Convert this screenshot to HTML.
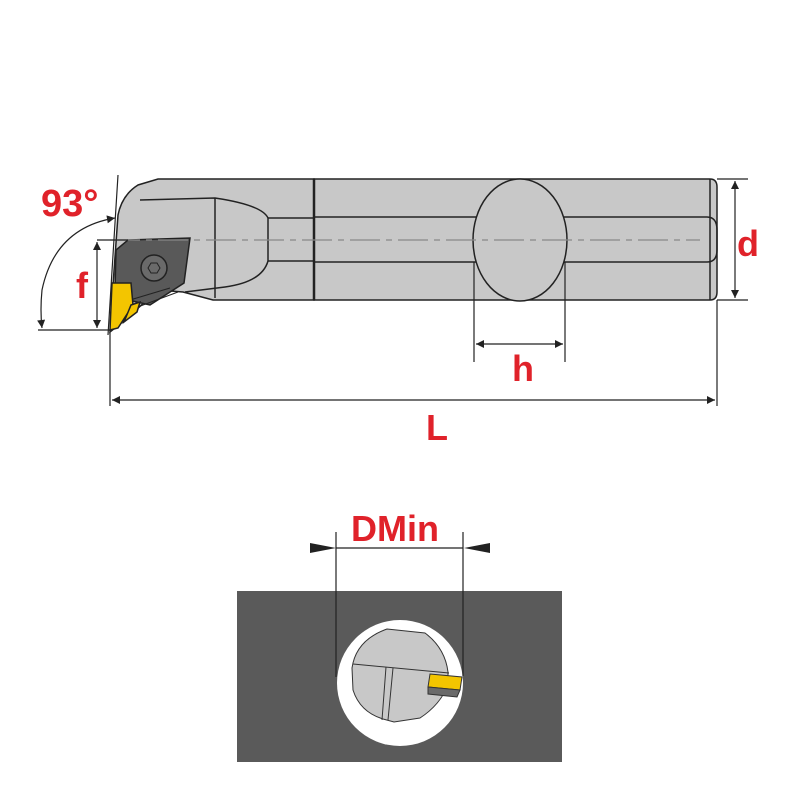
<!DOCTYPE html>
<html><head><meta charset="utf-8"><style>html,body{margin:0;padding:0;background:#fff}svg{display:block}</style></head>
<body>
<svg width="800" height="800" viewBox="0 0 800 800" xmlns="http://www.w3.org/2000/svg" font-family="Liberation Sans, sans-serif">
<defs>
<marker id="a" viewBox="0 0 10 10" refX="10" refY="5" markerWidth="14" markerHeight="8" orient="auto-start-reverse" markerUnits="userSpaceOnUse"><path d="M0,0 L10,5 L0,10 z" fill="#222"/></marker>
</defs>
<g stroke="#222" stroke-width="1.5" fill="#c8c8c8">
<!-- head outer -->
<path d="M158,179 H314 V300 H213 L183,292 L158,290 L125,320 L110,332 L113,285 L118,215 Q122,195 138,185 Z"/>
<path d="M140,200 L215,198 Q262,205 268,218 V261 Q262,282 225,287 L185,292" fill="none"/>
<line x1="215" y1="198" x2="215" y2="298"/>
<line x1="268" y1="218" x2="314" y2="218"/>
<line x1="268" y1="261" x2="314" y2="261"/>
<!-- bar -->
<path d="M314,179 H710 Q717,179 717,187 V292 Q717,300 710,300 H314 Z"/>
<path d="M314,217 H707 Q717,217 717,230 V250 Q717,262 707,262 H314" fill="none"/>
<line x1="710" y1="179" x2="710" y2="300"/>
<line x1="314" y1="179" x2="314" y2="300" stroke-width="2.5"/>
<ellipse cx="520" cy="240" rx="47" ry="61"/>
<!-- insert holder -->
<path d="M128,240 L190,238 L184,283 L150,305 L128,300 L115,290 L116,250 Z" fill="#595959"/>
<circle cx="154" cy="268" r="13" fill="#6a6a6a"/>
<path d="M148,268 l3,-5 h6 l3,5 l-3,5 h-6 z" fill="#6a6a6a" stroke-width="1"/>
<path d="M130,300 L170,288 M135,308 L178,292" fill="none" stroke-width="1"/>
<!-- yellow insert -->
<path d="M112,283 L131,283 L133,305 L118,328 L110,330 Z" fill="#f3c500"/>
<path d="M131,305 L140,302 L137,312 L124,322 Z" fill="#f3c500"/>
</g>
<!-- center line -->
<line x1="110" y1="240" x2="700" y2="240" stroke="#888" stroke-width="1.3" stroke-dasharray="30,6,6,6"/>
<!-- dims -->
<g stroke="#222" stroke-width="1.2" fill="none">
<line x1="118" y1="175" x2="108" y2="335"/>
<line x1="38" y1="330" x2="110" y2="330"/>
<line x1="97" y1="240" x2="128" y2="240"/>
<line x1="97" y1="242" x2="97" y2="328" marker-start="url(#a)" marker-end="url(#a)"/>
<path d="M115,218 Q55,228 42,290 Q40,310 42,328" marker-start="url(#a)" marker-end="url(#a)"/>
<line x1="110" y1="332" x2="110" y2="406"/>
<line x1="717" y1="300" x2="717" y2="406"/>
<line x1="112" y1="400" x2="715" y2="400" marker-start="url(#a)" marker-end="url(#a)"/>
<line x1="474" y1="262" x2="474" y2="362"/>
<line x1="565" y1="262" x2="565" y2="362"/>
<line x1="476" y1="344" x2="563" y2="344" marker-start="url(#a)" marker-end="url(#a)"/>
<line x1="717" y1="179" x2="748" y2="179"/>
<line x1="717" y1="300" x2="748" y2="300"/>
<line x1="735" y1="181" x2="735" y2="298" marker-start="url(#a)" marker-end="url(#a)"/>
</g>
<g fill="#e0222a" font-weight="bold">
<text x="41" y="216" font-size="38">93°</text>
<text x="76" y="298" font-size="36">f</text>
<text x="512" y="381" font-size="36">h</text>
<text x="426" y="440" font-size="36">L</text>
<text x="737" y="256" font-size="36">d</text>
<text x="351" y="541" font-size="36">DMin</text>
</g>
<!-- bottom view -->
<rect x="237" y="591" width="325" height="171" fill="#5a5a5a"/>
<circle cx="400" cy="683" r="63" fill="#fff"/>
<g stroke="#333" stroke-width="1">
<path d="M387,629 L425,633 Q445,648 448,672 L448,685 Q440,705 420,718 L394,722 L383,719 Q360,712 353,690 L352,668 Q356,640 387,629 Z" fill="#c8c8c8"/>
<line x1="353" y1="664" x2="449" y2="673" fill="none"/>
<path d="M386,667 L382,720 M393,668 L388,720" fill="none"/>
<path d="M430,674 L462,677 L460,690 L428,687 Z" fill="#f3c500"/>
<path d="M428,687 L460,690 L457,697 L428,694 Z" fill="#6a6a6a"/>
</g>
<g stroke="#222" stroke-width="1.2">
<line x1="336" y1="532" x2="336" y2="677"/>
<line x1="463" y1="532" x2="463" y2="676"/>
<line x1="336" y1="548" x2="463" y2="548"/>
<path d="M310,543 L336,548 L310,553 Z M490,543 L464,548 L490,553 Z" fill="#222" stroke="none"/>
</g>
</svg>
</body></html>
